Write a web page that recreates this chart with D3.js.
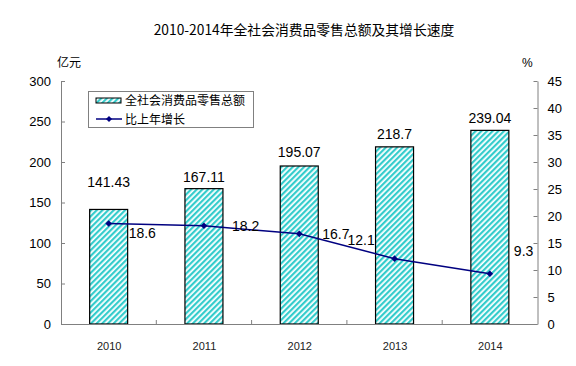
<!DOCTYPE html>
<html><head><meta charset="utf-8">
<script src="https://cdn.jsdelivr.net/npm/d3@7"></script>
<style>body{margin:0;background:#fff}svg{display:block}</style>
</head><body>
<script>
const years = ["2010","2011","2012","2013","2014"];
const sales = [141.43,167.11,195.07,218.7,239.04];
const growth = [18.6,18.2,16.7,12.1,9.3];
const leftTicks = [0,50,100,150,200,250,300];
const rightTicks = [0,5,10,15,20,25,30,35,40,45];
const title = "2010-2014年全社会消费品零售总额及其增长速度";
const seriesNames = ["全社会消费品零售总额","比上年增长"];
// label placement tweaks (layout, not data)
const barLabelLift = [27,12,14,13,12];
const lineLabelOffset = [[20,9],[28,0],[23,0],[-47,-19],[24,-23]];

const W=576,H=366;
const m={l:61,r:537.5,t:81,b:324};
const svg=d3.select("body").append("svg").attr("width",W).attr("height",H);
const font="'Liberation Sans',Arial,'Noto Sans CJK SC',sans-serif";
const cjk="'Noto Sans CJK SC','Liberation Sans',sans-serif";

const defs=svg.append("defs");
const pat=defs.append("pattern").attr("id","hatch").attr("patternUnits","userSpaceOnUse")
  .attr("width",4).attr("height",4).attr("patternTransform","rotate(45)");
pat.append("rect").attr("width",4).attr("height",4).attr("fill","#ffffff");
pat.append("rect").attr("width",2.2).attr("height",4).attr("fill","#33cccc");

const xc=d3.scalePoint().domain(years).range([m.l,m.r]).padding(0.5);
const yL=d3.scaleLinear().domain([0,300]).range([m.b,m.t]);
const yR=d3.scaleLinear().domain([0,45]).range([m.b,m.t]);

// title
svg.append("text").attr("x",304).attr("y",35).attr("text-anchor","middle")
  .style("font-family",cjk).style("font-size","13.8px").attr("fill","#000").text(title);
svg.append("text").attr("x",57).attr("y",67).style("font-family",cjk).style("font-size","12px").text("亿元");
svg.append("text").attr("x",522).attr("y",67).style("font-family",font).style("font-size","12px").text("%");

// axes
const gL=svg.append("g").attr("transform",`translate(${m.l},0)`)
  .call(d3.axisLeft(yL).tickValues(leftTicks).tickSize(-4).tickPadding(10).tickSizeOuter(0));
const gR=svg.append("g").attr("transform",`translate(${m.r},0)`)
  .call(d3.axisRight(yR).tickValues(rightTicks).tickSize(-4).tickPadding(10).tickSizeOuter(0));
[gL,gR].forEach(g=>{
  g.select(".domain").attr("stroke","#808080");
  g.selectAll(".tick line").attr("stroke","#808080");
  g.selectAll("text").style("font-family",font).style("font-size","13px").attr("fill","#000");
});

// bars
svg.append("g").selectAll("rect").data(years).join("rect")
  .attr("x",d=>xc(d)-19).attr("width",38)
  .attr("y",(d,i)=>yL(sales[i])).attr("height",(d,i)=>m.b-yL(sales[i]))
  .attr("fill","url(#hatch)").attr("stroke","#000").attr("stroke-width",1.2);

// x axis
const gX=svg.append("g").attr("transform",`translate(0,${m.b})`)
  .call(d3.axisBottom(xc).tickSize(0).tickPadding(18));
gX.select(".domain").attr("stroke","#808080").attr("d",`M${m.l},0.5H${m.r}`);
gX.selectAll("text").style("font-family",font).style("font-size","11px").attr("fill","#222");
const step=(m.r-m.l)/years.length;
gX.selectAll(".sep").data(d3.range(1,years.length)).join("line").attr("class","sep")
  .attr("x1",d=>m.l+d*step).attr("x2",d=>m.l+d*step).attr("y1",0).attr("y2",-4).attr("stroke","#808080");

// bar labels
svg.append("g").selectAll("text").data(years).join("text")
  .attr("x",d=>xc(d)).attr("y",(d,i)=>yL(sales[i])-barLabelLift[i]+5)
  .attr("text-anchor","middle").style("font-family",font).style("font-size","14px").text((d,i)=>sales[i]);

// line
const line=d3.line().x((d,i)=>xc(years[i])).y(d=>yR(d));
svg.append("path").datum(growth).attr("d",line).attr("fill","none").attr("stroke","#000080").attr("stroke-width",1.5);
svg.append("g").selectAll("path").data(growth).join("path")
  .attr("d",d3.symbol(d3.symbolDiamond2,28)).attr("transform",(d,i)=>`translate(${xc(years[i])},${yR(d)})`)
  .attr("fill","#000080");
svg.append("g").selectAll("text").data(growth).join("text")
  .attr("x",(d,i)=>xc(years[i])+lineLabelOffset[i][0]).attr("y",(d,i)=>yR(d)+lineLabelOffset[i][1]+5)
  .style("font-family",font).style("font-size","14px").text(d=>d);

// legend
const lg=svg.append("g");
lg.append("rect").attr("x",88.5).attr("y",91.5).attr("width",165).attr("height",36)
  .attr("fill","#fff").attr("stroke","#808080");
lg.append("rect").attr("x",96).attr("y",98).attr("width",25).attr("height",5)
  .attr("fill","url(#hatch)").attr("stroke","#000").attr("stroke-width",1);
lg.append("line").attr("x1",96).attr("x2",122).attr("y1",119).attr("y2",119).attr("stroke","#000080").attr("stroke-width",1.5);
lg.append("path").attr("d",d3.symbol(d3.symbolDiamond2,24)).attr("transform","translate(109,119)").attr("fill","#000080");
lg.selectAll(".lt").data(seriesNames).join("text").attr("class","lt")
  .attr("x",125).attr("y",(d,i)=>105+i*19).style("font-family",cjk).style("font-size","12px").text(d=>d);
</script>
</body></html>
